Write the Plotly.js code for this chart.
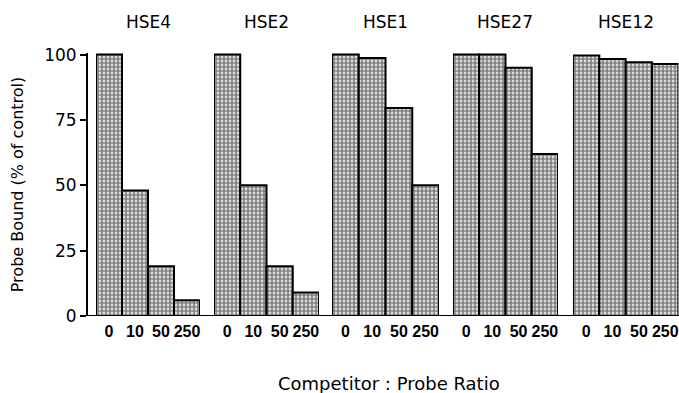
<!DOCTYPE html>
<html>
<head>
<meta charset="utf-8">
<script src="https://cdn.plot.ly/plotly-3.0.1.min.js"></script>
<style>html,body{margin:0;padding:0;background:#fff;}#chart{width:679px;height:393px;}</style>
</head>
<body>
<div id="chart"></div>
<script>
const groups = ["HSE4", "HSE2", "HSE1", "HSE27", "HSE12"];
const ratios = ["0", "10", "50", "250"];
const hse4  = [100, 48, 19, 6];
const hse2  = [100, 50, 19, 9];
const hse1  = [100, 98.7, 79.6, 50];
const hse27 = [100, 100, 95, 62];
const hse12 = [99.6, 98.3, 97.1, 96.4];
const seriesValues = [hse4, hse2, hse1, hse27, hse12];
const yTicks = [0, 25, 50, 75, 100];

const FONT = "'DejaVu Sans', sans-serif";
const domains = [[0.0152, 0.1909], [0.2145, 0.3919], [0.4139, 0.5946], [0.6182, 0.7956], [0.8209, 0.999]];

const traces = [];
const layout = {
  width: 679, height: 393,
  margin: {l: 87, r: 0, t: 53, b: 77},
  paper_bgcolor: "#fff", plot_bgcolor: "#fff",
  showlegend: false,
  bargap: 0,
  font: {family: FONT, color: "#000"},
  yaxis: {
    range: [0, 100.6], anchor: "free", position: 0,
    tickvals: yTicks, ticktext: yTicks.map(String),
    showline: true, linecolor: "#000", linewidth: 2,
    ticks: "outside", ticklen: 6, tickwidth: 2, tickcolor: "#000",
    showgrid: false, zeroline: false,
    tickfont: {family: FONT, size: 17, color: "#000"},
    title: {text: "Probe Bound (% of control)", font: {family: FONT, size: 16, color: "#000"}, standoff: 16}
  },
  annotations: [],
  shapes: [{
    type: "line", xref: "paper", yref: "y", x0: 0, x1: 1, y0: 0, y1: 0,
    line: {color: "#000", width: 2}
  }]
};

groups.forEach((g, i) => {
  const xa = i === 0 ? "x" : "x" + (i + 1);
  const xkey = i === 0 ? "xaxis" : "xaxis" + (i + 1);
  traces.push({
    type: "bar", x: ratios, y: seriesValues[i], xaxis: xa, yaxis: "y",
    marker: {
      color: "#fff",
      line: {color: "#000", width: 2},
      pattern: {shape: ".", size: 4, solidity: 0.7, fgcolor: "#000", bgcolor: "#fff", fillmode: "overlay"}
    },
    hoverinfo: "skip"
  });
  layout[xkey] = {
    domain: domains[i], anchor: "y", type: "category",
    categoryorder: "array", categoryarray: ratios,
    showline: false, showgrid: false, zeroline: false, ticks: "",
    tickfont: {family: "'Liberation Sans', Arial, sans-serif", size: 16, color: "#000", weight: "bold"},
    ticklabelstandoff: 4
  };
  layout.annotations.push({
    text: g, xref: xa + " domain", yref: "paper", x: 0.5, y: 1, yshift: 31,
    showarrow: false, xanchor: "center", yanchor: "middle",
    font: {family: FONT, size: 17, color: "#000"}
  });
});

layout.annotations.push({
  text: "Competitor : Probe Ratio", xref: "paper", yref: "paper",
  x: 0.51, y: 0, yshift: -67, xanchor: "center", yanchor: "middle", showarrow: false,
  font: {family: FONT, size: 18, color: "#000"}
});

Plotly.newPlot("chart", traces, layout, {displayModeBar: false, staticPlot: true});
</script>
</body>
</html>
